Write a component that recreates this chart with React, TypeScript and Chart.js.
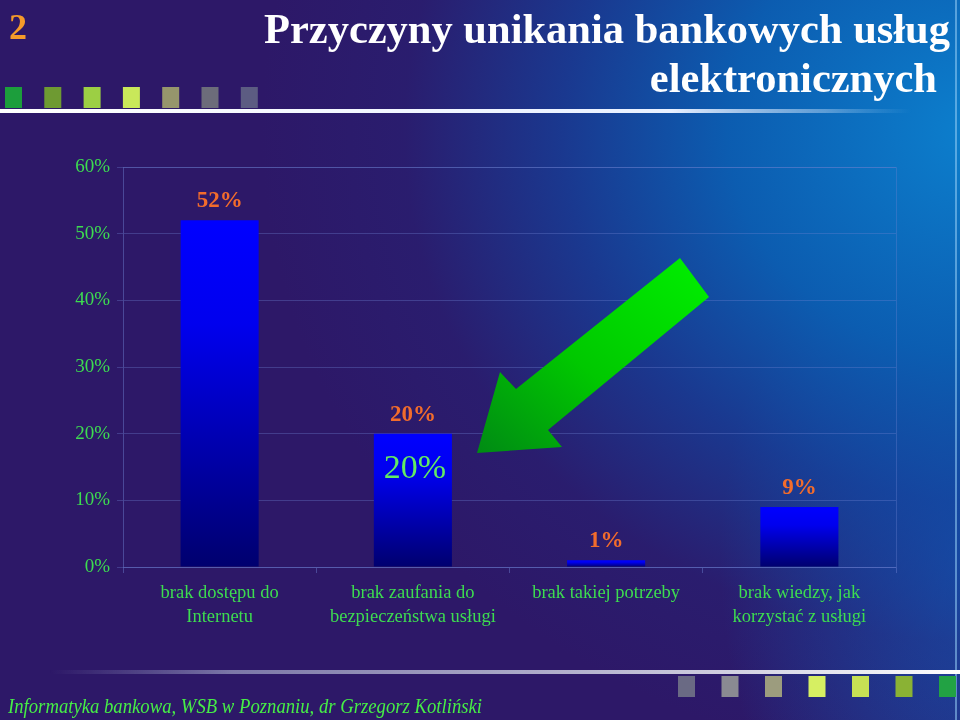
import React, { useEffect, useRef } from 'react';
import { Chart, registerables, Plugin } from 'chart.js';

Chart.register(...registerables);

const categories: string[][] = [
  ['brak dostępu do', 'Internetu'],
  ['brak zaufania do', 'bezpieczeństwa usługi'],
  ['brak takiej potrzeby'],
  ['brak wiedzy, jak', 'korzystać z usługi'],
];
const shares = [52, 20, 1, 9];
const yTicks = [0, 10, 20, 30, 40, 50, 60];
const highlightIndex = 1;

const titleLines = ['Przyczyny unikania bankowych usług', 'elektronicznych'];
const slideNumber = '2';
const footerText = 'Informatyka bankowa, WSB w Poznaniu, dr Grzegorz Kotliński';

const topSquares = ['#1c9e3c', '#6e9a32', '#9ccf44', '#c9e85a', '#96966c', '#6c6c7a', '#5c5c82'];
const bottomSquares = ['#6a6a84', '#8a8a92', '#9c9c7e', '#d6ef62', '#c6e054', '#8ab234', '#22a244'];

const SERIF = '"Liberation Serif", "Times New Roman", serif';
const GREEN = '#3ddc50';

const barLabels: Plugin<'bar'> = {
  id: 'barLabels',
  afterDatasetsDraw(chart) {
    const { ctx, chartArea } = chart;
    ctx.save();
    // plot frame
    ctx.strokeStyle = 'rgba(110,130,210,0.35)';
    ctx.lineWidth = 1;
    ctx.beginPath();
    ctx.moveTo(chartArea.left, chartArea.top + 0.5);
    ctx.lineTo(chartArea.right + 0.5, chartArea.top + 0.5);
    ctx.lineTo(chartArea.right + 0.5, chartArea.bottom);
    ctx.stroke();

    const meta = chart.getDatasetMeta(0);
    ctx.textAlign = 'center';
    ctx.textBaseline = 'middle';
    meta.data.forEach((bar: any, i) => {
      ctx.fillStyle = '#f26c2c';
      ctx.font = `bold 23px ${SERIF}`;
      ctx.fillText(`${shares[i]}%`, bar.x, bar.y - 19);
      if (i === highlightIndex) {
        ctx.fillStyle = '#62ea62';
        ctx.font = `34px ${SERIF}`;
        ctx.fillText(`${shares[i]}%`, bar.x + 2, bar.y + 35);
      }
    });
    ctx.restore();
  },
};

const App: React.FC = () => {
  const canvasRef = useRef<HTMLCanvasElement>(null);
  const chartRef = useRef<Chart | null>(null);

  useEffect(() => {
    if (!canvasRef.current) return;

    chartRef.current = new Chart(canvasRef.current, {
      type: 'bar',
      data: {
        labels: categories,
        datasets: [{
          data: shares,
          backgroundColor: (c: any) => {
            const chart = c.chart;
            const y = chart.scales?.y;
            if (!y || c.type !== 'data') return '#0000ff';
            const top = y.getPixelForValue(c.raw);
            const bottom = y.getPixelForValue(0);
            if (!isFinite(top) || !isFinite(bottom) || bottom - top < 1) return '#0000ff';
            const g = chart.ctx.createLinearGradient(0, top, 0, bottom);
            g.addColorStop(0, '#0000ff');
            g.addColorStop(0.3, '#0000ee');
            g.addColorStop(1, '#00006e');
            return g;
          },
          borderWidth: 0,
          categoryPercentage: 1,
          barPercentage: 0.404,
        }],
      },
      options: {
        animation: false,
        responsive: true,
        maintainAspectRatio: false,
        layout: { padding: { top: 167, right: 64, bottom: 60, left: 0 } },
        plugins: {
          legend: { display: false },
          tooltip: { enabled: false },
          title: { display: false },
        },
        scales: {
          x: {
            afterFit: (s: any) => { s.height = 93; },
            grid: {
              drawOnChartArea: false,
              color: 'rgba(110,130,210,0.45)',
              tickLength: 6,
            },
            border: { color: 'rgba(110,130,210,0.45)' },
            ticks: {
              color: GREEN,
              padding: 9,
              maxRotation: 0,
              autoSkip: false,
              font: { family: SERIF, size: 18.5, lineHeight: 1.25 },
            },
          },
          y: {
            min: yTicks[0],
            max: yTicks[yTicks.length - 1],
            afterFit: (s: any) => { s.width = 123; },
            afterBuildTicks: (s: any) => { s.ticks = yTicks.map((v) => ({ value: v })); },
            grid: {
              color: 'rgba(110,130,210,0.35)',
              tickLength: 6,
            },
            border: { color: 'rgba(110,130,210,0.45)' },
            ticks: {
              color: GREEN,
              padding: 7,
              font: { family: SERIF, size: 19 },
              callback: (v: any) => `${v}%`,
            },
          },
        },
      },
      plugins: [barLabels],
    });

    return () => {
      chartRef.current?.destroy();
      chartRef.current = null;
    };
  }, []);

  return (
    <div
      style={{
        position: 'absolute',
        left: 0,
        top: 0,
        width: 960,
        height: 720,
        overflow: 'hidden',
        background:
          'radial-gradient(ellipse 720px 640px at 980px 130px, rgba(12,128,206,1) 0%, rgba(10,96,180,0.95) 35%, rgba(18,70,160,0.7) 58%, rgba(35,40,125,0.3) 80%, rgba(45,24,104,0) 100%),' +
          'radial-gradient(ellipse 260px 380px at 980px 560px, rgba(16,96,190,0.85) 0%, rgba(45,24,104,0) 100%),' +
          '#2d1868',
      }}
    >
      <div style={{ position: 'absolute', left: 0, top: 0, width: 960, height: 720 }}>
        <canvas ref={canvasRef} role="img" aria-label="Bar chart: reasons for avoiding electronic banking services" />
      </div>
      <svg
        width={960}
        height={720}
        style={{ position: 'absolute', left: 0, top: 0, pointerEvents: 'none' }}
      >
        <defs>
          <linearGradient id="arrowFill" x1="1" y1="0" x2="0" y2="1">
            <stop offset="0" stopColor="#00f000" />
            <stop offset="0.55" stopColor="#00c800" />
            <stop offset="1" stopColor="#008a14" />
          </linearGradient>
          <linearGradient id="topLine" x1="0" y1="0" x2="1" y2="0">
            <stop offset="0" stopColor="#ffffff" />
            <stop offset="0.7" stopColor="#e8f0ff" />
            <stop offset="0.86" stopColor="#b0d0f0" stopOpacity="0.5" />
            <stop offset="0.95" stopColor="#80c0f0" stopOpacity="0" />
          </linearGradient>
          <linearGradient id="bottomLine" x1="0" y1="0" x2="1" y2="0">
            <stop offset="0" stopColor="#8080b0" stopOpacity="0" />
            <stop offset="0.2" stopColor="#9090b8" stopOpacity="0.8" />
            <stop offset="1" stopColor="#ffffff" />
          </linearGradient>
        </defs>

        <text x={9} y={39} fill="#f59a2a" fontFamily={SERIF} fontWeight="bold" fontSize={36}>
          {slideNumber}
        </text>
        <text x={950} y={43} textAnchor="end" fill="#ffffff" fontFamily={SERIF} fontWeight="bold" fontSize={42.5}>
          {titleLines[0]}
        </text>
        <text x={937} y={92} textAnchor="end" fill="#ffffff" fontFamily={SERIF} fontWeight="bold" fontSize={42.5}>
          {titleLines[1]}
        </text>

        {topSquares.map((c, i) => (
          <rect key={`t${i}`} x={5 + i * 39.3} y={87} width={17} height={21} fill={c} />
        ))}
        <rect x={0} y={109} width={960} height={4} fill="url(#topLine)" />
        <rect x={955} y={0} width={2} height={720} fill="rgba(150,205,245,0.55)" />

        <rect x={50} y={670} width={910} height={4} fill="url(#bottomLine)" />
        {bottomSquares.map((c, i) => (
          <rect key={`b${i}`} x={678 + i * 43.5} y={676} width={17} height={21} fill={c} />
        ))}

        <text
          x={8}
          y={713}
          fill="#46ee46"
          fontFamily={SERIF}
          fontStyle="italic"
          fontSize={21}
          textLength={474}
          lengthAdjust="spacingAndGlyphs"
        >
          {footerText}
        </text>

        <polygon
          points="477,453 500,372 516,389 680,258 709,297 548,430 562,447"
          fill="url(#arrowFill)"
        />
      </svg>
    </div>
  );
};

export default App;
